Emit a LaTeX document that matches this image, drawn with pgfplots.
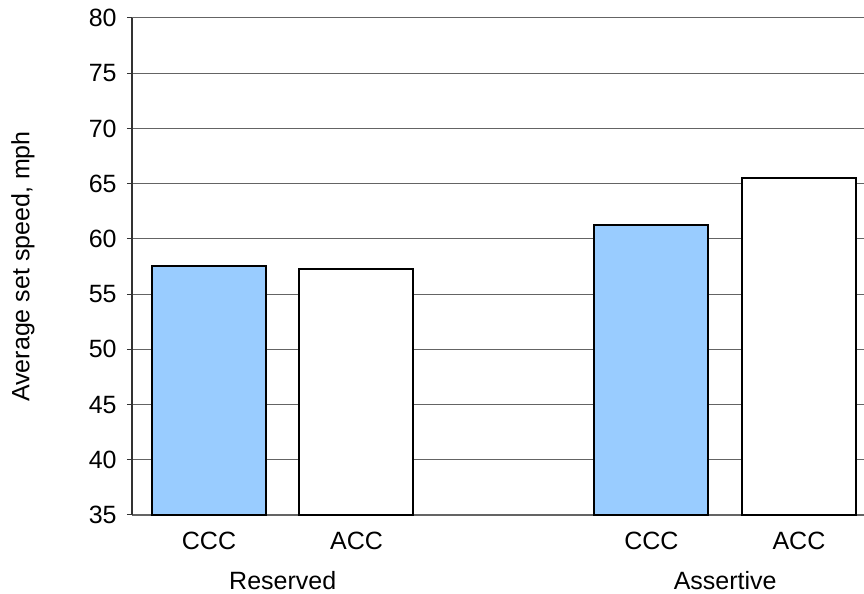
\documentclass[border=0pt]{standalone}
\usepackage{fontspec}
\setmainfont{Liberation Sans}
\usepackage{pgfplots}
\pgfplotsset{compat=1.18}
\definecolor{cccblue}{RGB}{153,204,255}
\definecolor{gridgray}{RGB}{100,100,100}
\begin{document}
\begin{tikzpicture}[font=\fontsize{12.5}{15}\selectfont]
\begin{axis}[
  scale only axis,
  width=366pt, height=248.5pt,
  at={(0,0)}, anchor=south west,
  xmin=-0.522, xmax=4.441,
  ymin=35, ymax=80,
  ytick={35,40,...,80},
  xtick={0,1,3,4},
  xticklabels={CCC,ACC,CCC,ACC},
  axis x line*=bottom, axis y line*=left,
  axis line style={-},
  x axis line style={gridgray, line width=0.6pt},
  y axis line style={black!80, line width=0.8pt},
  ymajorgrids,
  grid style={gridgray, line width=0.5pt},
  tick align=outside,
  major tick length=2.5pt,
  ytick style={black!80, line width=0.5pt},
  xtick style={draw=none},
  /pgf/number format/assume math mode=true,
  yticklabel style={anchor=east, inner sep=0pt, xshift=-5pt},
  xticklabel style={anchor=base, inner sep=0pt, yshift=-15pt},
  ylabel={Average set speed, mph},
  ylabel style={at={(axis description cs:-0.149,0.5)}, anchor=center},
  clip=false,
  ybar, bar width=57pt, bar shift=0pt,
]
\addplot[draw=black, line width=1pt, fill=cccblue] coordinates {(0,57.5) (3,61.3)};
\addplot[draw=black, line width=1pt, fill=white] coordinates {(1,57.3) (4,65.5)};
\node[anchor=base, inner sep=0pt] at (axis cs:0.5,35) [yshift=-37.5pt] {Reserved};
\node[anchor=base, inner sep=0pt] at (axis cs:3.5,35) [yshift=-37.5pt] {Assertive};
\end{axis}
\pgfresetboundingbox
\useasboundingbox (-66pt,-39.5pt) rectangle (366pt,257.5pt);
\end{tikzpicture}
\end{document}
